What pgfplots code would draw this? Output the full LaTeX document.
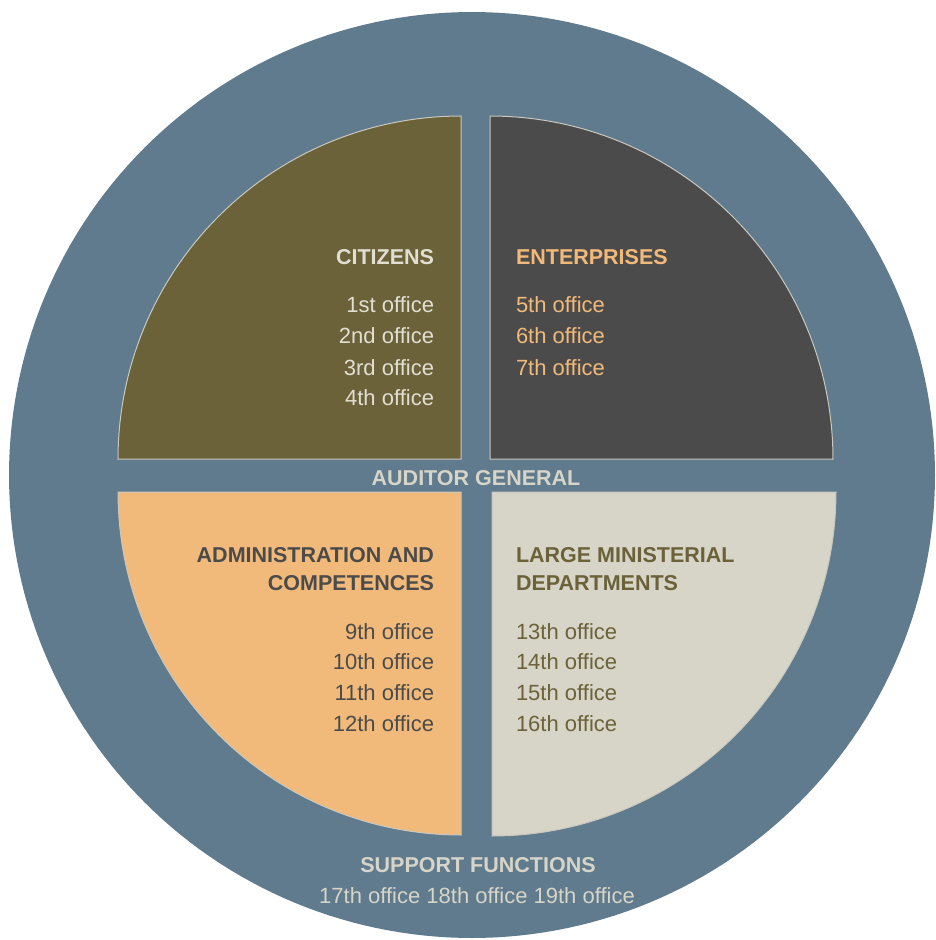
\documentclass[border=0pt]{standalone}
\usepackage{fontspec}
\setmainfont{Liberation Sans}
\usepackage{pgfplots}
\pgfplotsset{compat=1.18}
\definecolor{ring}{HTML}{607B8D}
\definecolor{olive}{HTML}{6B6239}
\definecolor{darkq}{HTML}{4B4B4B}
\definecolor{orangeq}{HTML}{F2BA7A}
\definecolor{beige}{HTML}{D7D4C8}
\definecolor{lighttext}{HTML}{E2DED2}
\definecolor{edge}{HTML}{C9C7BE}
\tikzset{
  txt/.style={inner sep=0pt,outer sep=0pt,font=\fontsize{22}{26}\selectfont},
  hd/.style={inner sep=0pt,outer sep=0pt,font=\fontsize{21.5}{26}\selectfont\bfseries}}
\begin{document}
\begin{tikzpicture}
\begin{axis}[x=1pt,y=1pt,xmin=0,xmax=936,ymin=0,ymax=940,y dir=reverse,
  hide axis,clip=false]
\path (0,0) rectangle (936,940);
% outer ring
\addplot[fill=ring,draw=none,domain=0:360,samples=241] ({472+463*cos(x)},{475+463*sin(x)});
% quarter sectors
\addplot[fill=olive,draw=edge,line width=1pt,domain=90:180,samples=61] ({461+343*cos(x)},{459-343*sin(x)}) -- (461,459) -- cycle;
\addplot[fill=darkq,draw=edge,line width=1pt,domain=0:90,samples=61] ({490+343*cos(x)},{459-343*sin(x)}) -- (490,459) -- cycle;
\addplot[fill=orangeq,draw=edge,line width=1pt,domain=180:270,samples=61] ({461+343*cos(x)},{492-343*sin(x)}) -- (461,492) -- cycle;
\addplot[fill=beige,draw=edge,line width=1pt,domain=270:360,samples=61] ({492+344*cos(x)},{492-344*sin(x)}) -- (492,492) -- cycle;
% texts top-left
\node[hd,anchor=base east,text=lighttext] at (434,264) {CITIZENS};
\node[txt,anchor=base east,text=lighttext] at (434,312) {1st office};
\node[txt,anchor=base east,text=lighttext] at (434,343) {2nd office};
\node[txt,anchor=base east,text=lighttext] at (434,375) {3rd office};
\node[txt,anchor=base east,text=lighttext] at (434,405) {4th office};
% top-right
\node[hd,anchor=base west,text=orangeq] at (516,264) {ENTERPRISES};
\node[txt,anchor=base west,text=orangeq] at (516,312) {5th office};
\node[txt,anchor=base west,text=orangeq] at (516,343) {6th office};
\node[txt,anchor=base west,text=orangeq] at (516,375) {7th office};
% centre
\node[hd,anchor=base,text=beige] at (476,485) {AUDITOR GENERAL};
% bottom-left
\node[hd,anchor=base east,text=darkq] at (434,562) {ADMINISTRATION AND};
\node[hd,anchor=base east,text=darkq] at (434,590) {COMPETENCES};
\node[txt,anchor=base east,text=darkq] at (434,639) {9th office};
\node[txt,anchor=base east,text=darkq] at (434,669) {10th office};
\node[txt,anchor=base east,text=darkq] at (434,700) {11th office};
\node[txt,anchor=base east,text=darkq] at (434,731) {12th office};
% bottom-right
\node[hd,anchor=base west,text=olive] at (516,562) {LARGE MINISTERIAL};
\node[hd,anchor=base west,text=olive] at (516,590) {DEPARTMENTS};
\node[txt,anchor=base west,text=olive] at (516,639) {13th office};
\node[txt,anchor=base west,text=olive] at (516,669) {14th office};
\node[txt,anchor=base west,text=olive] at (516,700) {15th office};
\node[txt,anchor=base west,text=olive] at (516,731) {16th office};
% bottom ring text
\node[hd,anchor=base,text=beige] at (478,872) {SUPPORT FUNCTIONS};
\node[txt,anchor=base,text=beige] at (477,903) {17th office 18th office 19th office};
\end{axis}
\end{tikzpicture}
\end{document}
